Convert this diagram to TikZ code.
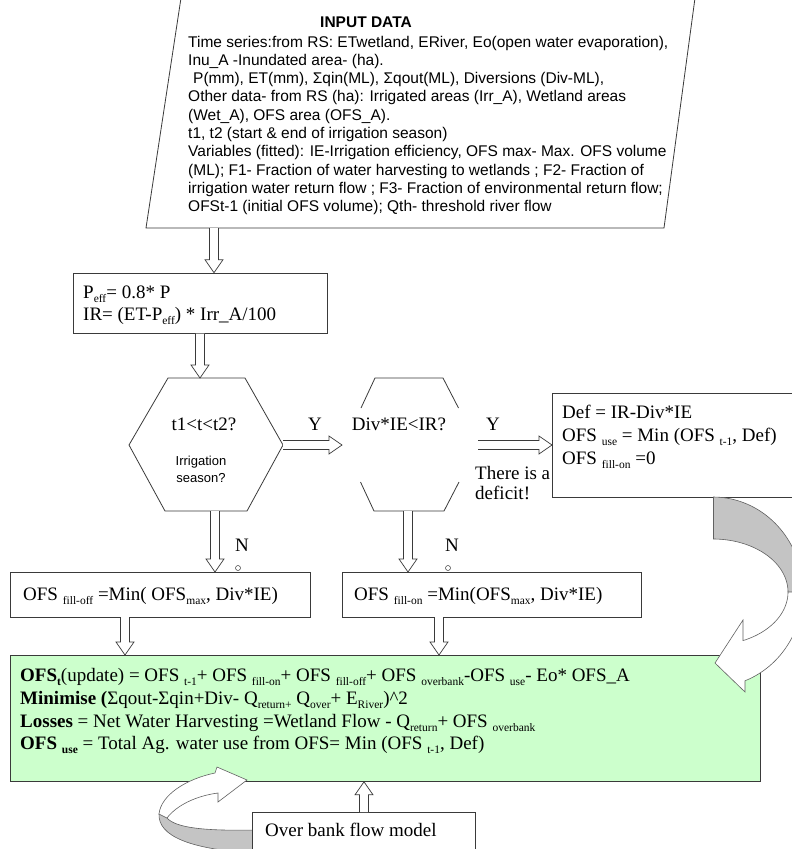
\documentclass[tikz,border=0pt]{standalone}
\usepackage{fontspec}
\setmainfont{Liberation Serif}
\newfontfamily\arial{Liberation Sans}
\usetikzlibrary{calc}
\newcommand\sub[1]{\raisebox{-4pt}{\fontsize{11.5}{12}\selectfont #1}}
\newcommand\hollowarrow[2]{%
  \coordinate (hb) at ($(#2)!13pt!(#1)$);
  \draw[harrow] ($(#1)!4.5pt!90:(#2)$) -- ($(hb)!4.5pt!-90:(#1)$) -- ($(hb)!9pt!-90:(#1)$) -- (#2) -- ($(hb)!9pt!90:(#1)$) -- ($(hb)!4.5pt!90:(#1)$) -- ($(#1)!4.5pt!-90:(#2)$);
}
\definecolor{boxgreen}{HTML}{CCFFCC}
\definecolor{ribbongray}{HTML}{C4C4C4}
\definecolor{edge}{HTML}{3A3A3A}
\begin{document}
\begin{tikzpicture}[x=1pt,y=-1pt,
  box/.style={draw=edge, line width=0.8pt, fill=white, inner sep=0pt, anchor=north west},
  shape line/.style={draw=edge, line width=0.8pt},
  harrow/.style={draw=edge, line width=0.7pt, fill=white},
  ribbon/.style={draw=edge!80, line width=0.6pt},
  stxt/.style={anchor=base west, inner sep=0pt, font=\arial\fontsize{15.5}{18.3}\selectfont},
  rtxt/.style={anchor=base west, inner sep=0pt, font=\fontsize{19}{22}\selectfont},
  ctxt/.style={anchor=base, inner sep=0pt, font=\fontsize{19}{22}\selectfont},
  ssmall/.style={anchor=base, inner sep=0pt, font=\arial\fontsize{13}{16}\selectfont}]
\useasboundingbox (0,0) rectangle (792,849);
\clip (0,0) rectangle (792,849);

% ---------- input parallelogram ----------
\draw[shape line] (181,-2) -- (146,228) -- (664,228) -- (695,-2);
\coordinate (inbottom) at (214,228);
\node[anchor=base, inner sep=0pt, font=\arial\bfseries\fontsize{15.5}{18.3}\selectfont] (title) at (366,27) {INPUT DATA};
\node[stxt] (l1) at (188,47) {Time series:from RS: ETwetland, ERiver, Eo(open water evaporation),};
\node[stxt] (l2) at (188,65.3) {Inu\_A -Inundated area- (ha).};
\node[stxt] (l3) at (193,83.6) {P(mm), ET(mm), Σqin(ML), Σqout(ML), Diversions (Div-ML),};
\node[stxt] (l4) at (188,101.9) {Other data- from RS (ha): Irrigated areas (Irr\_A), Wetland areas};
\node[stxt] (l5) at (188,120.2) {(Wet\_A), OFS area (OFS\_A).};
\node[stxt] (l6) at (188,138.5) {t1, t2 (start \& end of irrigation season)};
\node[stxt] (l7) at (188,156.8) {Variables (fitted): IE-Irrigation efficiency, OFS max- Max. OFS volume};
\node[stxt] (l8) at (188,175.1) {(ML); F1- Fraction of water harvesting to wetlands ; F2- Fraction of};
\node[stxt] (l9) at (188,193.4) {irrigation water return flow ; F3- Fraction of environmental return flow;};
\node[stxt] (l10) at (188,211.7) {OFSt-1 (initial OFS volume); Qth- threshold river flow};

% ---------- Peff box ----------
\node[box, minimum width=254pt, minimum height=60pt] (peff) at (72.7,272.7) {};
\node[rtxt] (peff1) at (83,298) {P\sub{eff}= 0.8* P};
\node[rtxt] (peff2) at (83,320) {IR= (ET-P\sub{eff}) * Irr\_A/100};

% ---------- hexagon 1 ----------
\draw[shape line] (168,378) -- (245,378) -- (283,445) -- (247,511) -- (165,511) -- (129,445) -- cycle;
\coordinate (h1top) at (200,378);
\coordinate (h1right) at (283,445);
\coordinate (h1bottom) at (215,511);
\node[ctxt] (q1) at (204,430) {t1<t<t2?};
\node[ssmall] (q1b) at (201,465) {Irrigation};
\node[ssmall] (q1c) at (201,482) {season?};

% ---------- hexagon 2 (sides broken by its label) ----------
\draw[shape line] (361,408) -- (375,378) -- (443,378) -- (458.5,408);
\draw[shape line] (360.5,482) -- (374,511) -- (444,511) -- (459,482);
\coordinate (h2left) at (342,445);
\coordinate (h2right) at (478,445);
\coordinate (h2bottom) at (408,511);
\node[ctxt] (q2) at (399,430) {Div*IE<IR?};

\node[ctxt] (y1) at (315,430) {Y};
\node[ctxt] (y2) at (493,430) {Y};
\node[rtxt] (def1) at (475,479) {There is a};
\node[rtxt] (def2) at (475,499) {deficit!};

% ---------- deficit box ----------
\node[box, minimum width=250pt, minimum height=104pt] (defbox) at (552,393) {};
\node[rtxt] (d1) at (562,418) {Def = IR-Div*IE};
\node[rtxt] (d2) at (562,441) {OFS \sub{use} = Min (OFS \sub{t-1}, Def)};
\node[rtxt] (d3) at (562,464) {OFS \sub{fill-on} =0};

% ---------- N labels ----------
\node[ctxt] (n1) at (242,551) {N};
\node[ctxt] (n2) at (452,551) {N};
\node[circle, draw=edge, line width=0.5pt, inner sep=0pt, minimum size=5pt] (o1) at (238,568) {};
\node[circle, draw=edge, line width=0.5pt, inner sep=0pt, minimum size=5pt] (o2) at (448,568) {};

% ---------- fill boxes ----------
\node[box, minimum width=300pt, minimum height=45pt] (filloff) at (10,572) {};
\node[rtxt] (fo) at (23,600) {OFS \sub{fill-off} =Min( OFS\sub{max}, Div*IE)};
\node[box, minimum width=299pt, minimum height=45pt] (fillon) at (342,572) {};
\node[rtxt] (fn) at (354,600) {OFS \sub{fill-on} =Min(OFS\sub{max}, Div*IE)};

% ---------- green box ----------
\node[box, fill=boxgreen, minimum width=750pt, minimum height=126pt] (green) at (10,655) {};
\node[rtxt] (g1) at (20,681) {\textbf{OFS\sub{t}}(update) = OFS \sub{t-1}+ OFS \sub{fill-on}+ OFS \sub{fill-off}+ OFS \sub{overbank}-OFS \sub{use}- Eo* OFS\_A};
\node[rtxt] (g2) at (20,704) {\textbf{Minimise (}Σqout-Σqin+Div- Q\sub{return+} Q\sub{over}+ E\sub{River})\^{}2};
\node[rtxt] (g3) at (20,727) {\textbf{Losses} = Net Water Harvesting =Wetland Flow - Q\sub{return}+ OFS \sub{overbank}};
\node[rtxt] (g4) at (20,749) {\textbf{OFS \sub{use}} = Total Ag. water use from OFS= Min (OFS \sub{t-1}, Def)};

% ---------- connectors (hollow block arrows) ----------
\coordinate (a1e) at (peff.north -| inbottom);
\hollowarrow{inbottom}{a1e}
\coordinate (a2s) at (peff.south -| h1top);
\hollowarrow{a2s}{h1top}
\hollowarrow{h1right}{h2left}
\coordinate (a4e) at (defbox.west |- h2right);
\hollowarrow{h2right}{a4e}
\coordinate (a5e) at (filloff.north -| h1bottom);
\hollowarrow{h1bottom}{a5e}
\coordinate (a6e) at (fillon.north -| h2bottom);
\hollowarrow{h2bottom}{a6e}
\coordinate (a7s) at (125,617);
\coordinate (a7e) at (green.north -| a7s);
\hollowarrow{a7s}{a7e}
\coordinate (a8s) at (439,617);
\coordinate (a8e) at (green.north -| a8s);
\hollowarrow{a8s}{a8e}

% ---------- right curved ribbon arrow (deficit box -> green box) ----------
\fill[ribbongray] plot[domain=-90:0, samples=40] ({713+90*cos(\x)},{592+95*sin(\x)})
  -- plot[domain=0:-90, samples=40] ({713+75*cos(\x)},{592+53*sin(\x)}) -- cycle;
\draw[ribbon] plot[domain=-90:0, samples=40] ({713+90*cos(\x)},{592+95*sin(\x)});
\draw[ribbon] plot[domain=-90:0, samples=40] ({713+75*cos(\x)},{592+53*sin(\x)});
\draw[ribbon] (713,497) -- (713,539);
\draw[ribbon, fill=white] plot[domain=0:69.2, samples=40] ({713+90*cos(\x)},{592+95*sin(\x)})
  -- (745,692) -- (715,663) -- (743,620)
  -- plot[domain=66.4:0, samples=40] ({713+75*cos(\x)},{592+53*sin(\x)}) -- cycle;

% ---------- left curved ribbon arrow (loop into green box) ----------
\draw[ribbon, fill=ribbongray] (159,814) .. controls (158,836) and (190,849) .. (252,853)
  -- (255,830) .. controls (205,831) and (176,828) .. (167,818) -- cycle;
\draw[ribbon, fill=white] (215,773) .. controls (186,779) and (161,795) .. (159,814)
  -- (167,818) .. controls (176,806) and (195,796) .. (218,793)
  -- (218,802) -- (247,780) -- (217,767) -- cycle;

% ---------- over bank box ----------
\node[box, minimum width=223pt, minimum height=50pt] (over) at (252,812) {};
\node[rtxt] (ov) at (265,836) {Over bank flow model};
\coordinate (a9s) at (364,812);
\coordinate (a9e) at (green.south -| a9s);
\hollowarrow{a9s}{a9e}
\end{tikzpicture}
\end{document}
